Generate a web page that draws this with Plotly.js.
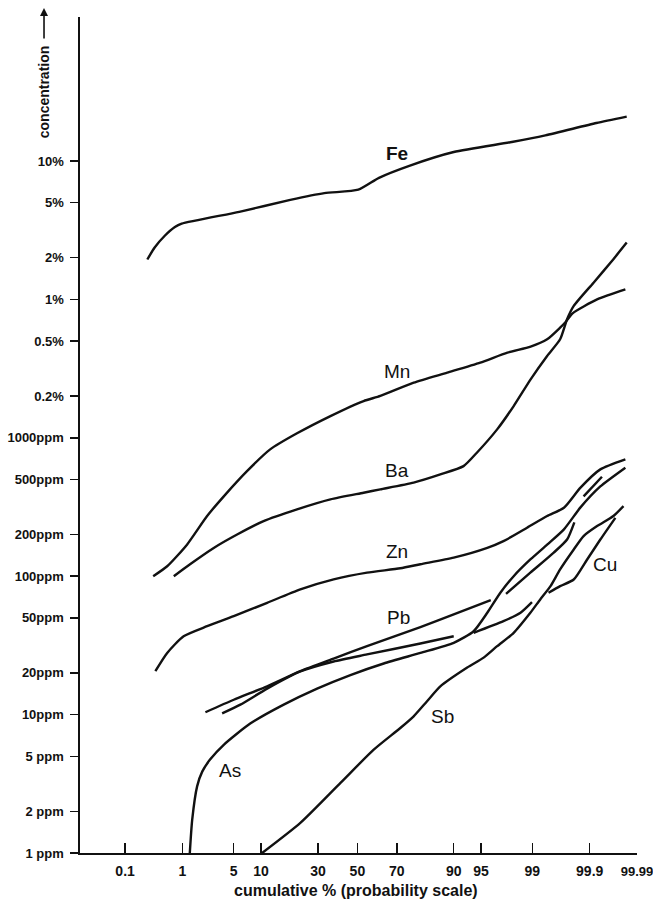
<!DOCTYPE html>
<html><head><meta charset="utf-8">
<script src="https://cdn.plot.ly/plotly-3.0.1.min.js"></script>
<style>html,body{margin:0;padding:0;background:#fff}#chart{width:653px;height:914px}</style>
</head><body><div id="chart"></div>
<script>
// ---- axis ticks ----
const xTickPct  = [0.1, 1, 5, 10, 30, 50, 70, 90, 95, 99, 99.9, 99.99];
const xTickText = ['0.1','1','5','10','30','50','70','90','95','99','99.9','<span style="font-size:13px">99.99</span>'];
const yTickVals = [1,2,5,10,20,50,100,200,500,1000,2000,5000,10000,20000,50000,100000];
const yTickText = ['1 ppm','2 ppm','5 ppm','10ppm','20ppm','50ppm','100ppm','200ppm','500ppm','1000ppm','0.2%','0.5%','1%','2%','5%','10%'];

// ---- series (cumulative %, concentration in ppm); null = gap in the drawn line ----
const fePct = [0.26,0.35,0.52,0.76,0.97,5.8,18.6,33,50.5,61.3,75.5,90,98,99.38,99.926,99.983];
const fePpm = [19400,23700,28800,33300,35200,42900,52300,58500,62000,75500,92200,116000,137000,153000,188000,209000];

const mnPct = [0.33,0.57,1.17,2.28,3.8,7.1,12.3,21.1,36,53.3,62,77.3,88.4,94.9,97.7,98.94,99.42,99.65,99.72,99.79,99.9285,99.9818];
const mnPpm = [100,118,169,272,379,574,824,1077,1435,1842,2004,2500,2955,3492,4122,4555,5145,6250,6870,7930,10000,11800];

const baPct = [0.73,1.3,2.8,5.48,10.6,21.1,36,53.3,62,77.3,86.5,92.1,94.4,96.85,98.12,98.94,99.42,99.65,99.736,99.80,99.916,99.967,99.983];
const baPpm = [100,122,160,200,250,304,359,401,424,474,543,624,780,1150,1695,2643,3900,5145,7180,8960,13200,19500,25700];

const znPct = [0.36,0.57,1.04,2.28,5,11.5,22.4,37.6,55.1,71.6,79.9,90,95.8,97.4,98.8,99.42,99.70,99.85,99.9385,99.9818];
const znPpm = [20.6,27.9,36.8,43.5,51.4,64.2,80.2,94.7,106,114,122,136,160,179,224,272,312,436,591,698];

const pbPct = [2.16,5,11.5,22.4,37.6,55.1,79.9,90,96.2, null, 97.6,98.93,99.55,99.736,99.805, null, 99.869,99.943];
const pbPpm = [10.4,12.8,16.0,20.6,25.4,31.2,42.9,52.9,67.2, null, 74.6,106,148,184,245, null, 377,523];

const cuPct = [3.6,5.98,11.5,22.4,37.6,55.1,79.9,90, null, 93.9,97.4,98.5,98.99, null, 99.45,99.65,99.80,99.888,99.9385,99.970];
const cuPpm = [10.2,11.8,15.4,20.5,24.2,27.2,32.6,36.8, null, 39.0,47.3,54.4,64.9, null, 75.9,84.7,94.6,132,184,264];

const asPct = [1.29,1.40,1.65,1.95,2.5,3.8,7.7,16.35,29.6,46.3,63.7,79.9,90,93.9,95.8,97.14,98.12,98.93,99.42,99.70,99.85,99.9385,99.9818];
const asPpm = [1,1.74,3.03,3.87,4.73,6.07,8.61,11.8,15.4,19.3,23.4,27.9,33.0,40,54.4,75.9,100,132,169,218,314,445,608];

const sbPct = [10.25,22.4,41.1,58.6,71.6,77.3,82.3,86.5,92.8,95.35,96.85,98.12,98.93,99.25,99.49,99.65,99.80,99.869,99.9285,99.967,99.980];
const sbPpm = [1,1.65,3.21,5.58,8.0,9.72,12.5,16.0,21.9,25.8,31.2,39.0,54.4,67.9,84.7,112,156,195,230,272,321];

// labels: name, cumulative %, ppm
const labelNames = ['Fe','Mn','Ba','Zn','Pb','As','Sb','Cu'];
const labelPct   = [70.3, 70.1, 70.1, 70.1, 70.6, 4.56, 87.0, 99.951];
const labelPpm   = [114000, 3035, 584, 152, 50, 3.96, 9.62, 122];

// ---- probability scale: inverse normal CDF (Acklam) ----
function probit(pct){
  if (pct === null) return null;
  const p = pct/100;
  const a=[-3.969683028665376e+01,2.209460984245205e+02,-2.759285104469687e+02,1.383577518672690e+02,-3.066479806614716e+01,2.506628277459239e+00];
  const b=[-5.447609879822406e+01,1.615858368580409e+02,-1.556989798598866e+02,6.680131188771972e+01,-1.328068155288572e+01];
  const c=[-7.784894002430293e-03,-3.223964580411365e-01,-2.400758277161838e+00,-2.549732539343734e+00,4.374664141464968e+00,2.938163982698783e+00];
  const d=[7.784695709041462e-03,3.224671290700398e-01,2.445134137142996e+00,3.754408661907416e+00];
  const pl=0.02425, ph=1-pl; let q,r;
  if(p<pl){q=Math.sqrt(-2*Math.log(p));return (((((c[0]*q+c[1])*q+c[2])*q+c[3])*q+c[4])*q+c[5])/((((d[0]*q+d[1])*q+d[2])*q+d[3])*q+1);}
  if(p<=ph){q=p-0.5;r=q*q;return (((((a[0]*r+a[1])*r+a[2])*r+a[3])*r+a[4])*r+a[5])*q/(((((b[0]*r+b[1])*r+b[2])*r+b[3])*r+b[4])*r+1);}
  q=Math.sqrt(-2*Math.log(1-p));return -(((((c[0]*q+c[1])*q+c[2])*q+c[3])*q+c[4])*q+c[5])/((((d[0]*q+d[1])*q+d[2])*q+d[3])*q+1);
}

const INK = '#111';
const axFont = "'Liberation Sans', Arial, Helvetica, sans-serif";
const labFont = "'Liberation Sans', Arial, Helvetica, sans-serif";

function line(name, pct, ppm){
  return {type:'scatter', mode:'lines', name:name,
    x: pct.map(probit), y: ppm, connectgaps:false,
    line:{color:INK, width:2.4, shape:'spline', smoothing:0.6},
    hoverinfo:'skip', showlegend:false};
}

const data = [
  line('Fe', fePct, fePpm), line('Mn', mnPct, mnPpm), line('Ba', baPct, baPpm),
  line('Zn', znPct, znPpm), line('Pb', pbPct, pbPpm), line('Cu', cuPct, cuPpm),
  line('As', asPct, asPpm), line('Sb', sbPct, sbPpm)
];

const annotations = labelNames.map((n,i)=>({
  text: n, x: probit(labelPct[i]), y: Math.log10(labelPpm[i]), xref:'x', yref:'y',
  showarrow:false, xanchor:'center', yanchor:'middle',
  font:{family:labFont, size:19, color:INK, weight: n==='Fe' ? 'bold' : 'normal'}
}));
annotations.push({
  text:'concentration', textangle:-90, xref:'paper', yref:'paper',
  x:-0.0646, y:0.910, showarrow:false, xanchor:'center', yanchor:'middle',
  font:{family:axFont, size:14, color:INK, weight:'bold'}
});
annotations.push({
  text:'', xref:'paper', yref:'paper', x:-0.0646, y:1.0108,
  showarrow:true, ax:0, ay:32, arrowhead:2, arrowsize:1, arrowwidth:1.6, arrowcolor:INK
});
annotations.push({
  text:'cumulative % (probability scale)', xref:'paper', yref:'paper',
  x:0.4964, y:-0.0443, showarrow:false, xanchor:'center', yanchor:'middle',
  font:{family:axFont, size:16, color:INK, weight:'bold'}
});

const layout = {
  width:653, height:914,
  margin:{l:80, r:16, t:17, b:61},
  paper_bgcolor:'#fff', plot_bgcolor:'#fff',
  xaxis:{range:[-3.69, 3.7196], tickmode:'array', tickvals:xTickPct.map(probit), ticktext:xTickText,
    ticks:'inside', ticklen:10, tickwidth:1.5, tickcolor:INK, showline:true, linecolor:INK, linewidth:1.6,
    showgrid:false, zeroline:false, ticklabelstandoff:5, ticklabeloverflow:'allow',
    tickfont:{family:axFont, size:14, color:INK, weight:'bold'}},
  yaxis:{type:'log', range:[0, 6.04], tickmode:'array', tickvals:yTickVals, ticktext:yTickText,
    ticks:'outside', ticklen:8, tickwidth:1.5, tickcolor:INK, showline:true, linecolor:INK, linewidth:1.6,
    showgrid:false, zeroline:false, ticklabelstandoff:4,
    tickfont:{family:axFont, size:13, color:INK, weight:'bold'}},
  annotations: annotations,
  showlegend:false
};

Plotly.newPlot('chart', data, layout, {staticPlot:true, displayModeBar:false});
</script>
</body></html>
